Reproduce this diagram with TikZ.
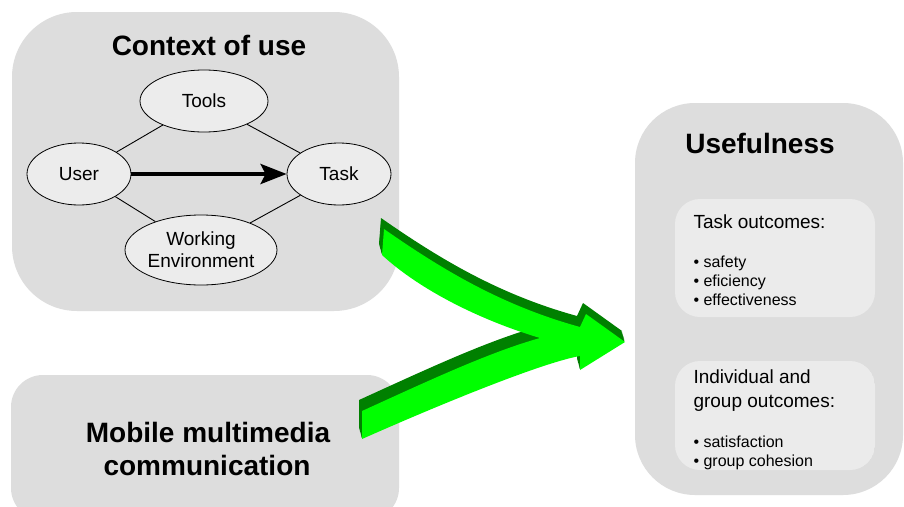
\documentclass[tikz,border=0pt]{standalone}
\usepackage{fontspec}
\setmainfont{Liberation Sans}
\usetikzlibrary{shapes.geometric,arrows.meta}
\definecolor{boxgray}{RGB}{221,221,221}
\definecolor{innergray}{RGB}{235,235,235}
\definecolor{ellgray}{RGB}{236,236,236}
\definecolor{brightgreen}{RGB}{0,255,0}
\definecolor{darkgreen}{RGB}{0,128,0}
\newcommand{\titlefont}{\fontsize{28}{33}\selectfont\bfseries}
\newcommand{\ellfont}{\fontsize{19}{22}\selectfont}
\newcommand{\headfont}{\fontsize{19}{24}\selectfont}
\newcommand{\bulfont}{\fontsize{16}{19}\selectfont}
\newcommand{\greenpath}{(384,229) .. controls (440,268) and (500,305) .. (580,327) -- (586,314) -- (625,342) -- (580,370) -- (580,356) .. controls (545,362) and (450,400) .. (362,439) -- (362,411) .. controls (430,380) and (490,352) .. (540,338) .. controls (480,320) and (420,290) .. (382,255) -- cycle}
\begin{document}
\begin{tikzpicture}[x=1pt,y=-1pt,
  bigbox/.style={fill=boxgray},
  innerbox/.style={fill=innergray, rounded corners=25pt},
  ell/.style={ellipse, draw=black, line width=0.8pt, fill=ellgray, inner sep=0pt, font=\ellfont, align=center},
  link/.style={line width=0.9pt},
  title/.style={anchor=base, font=\titlefont},
  head/.style={anchor=base west, font=\headfont},
  bul/.style={anchor=base west, font=\bulfont}
]
\clip (0,0) rectangle (904,506);
\fill[white] (0,0) rectangle (904,506);

% big boxes
\fill[bigbox, rounded corners=65pt] (12,12) rectangle (399,311);
\fill[bigbox, rounded corners=32pt] (11,375) rectangle (399,520);
\fill[bigbox, rounded corners=60pt] (635,103) rectangle (903,495);

% context of use
\node[title] (ctxtitle) at (209,55) {Context of use};
\node[ell, minimum width=128pt, minimum height=62pt] (tools) at (204,101) {Tools};
\node[ell, minimum width=104pt, minimum height=62pt] (user) at (79,174) {User};
\node[ell, minimum width=104pt, minimum height=62pt] (task) at (339,174) {Task};
\node[ell, minimum width=152pt, minimum height=70pt] (work) at (201,250) {Working\\Environment};
\draw[link] (user) -- (tools);
\draw[link] (tools) -- (task);
\draw[link] (user) -- (work);
\draw[link] (work) -- (task);
\draw[line width=4pt, -{Stealth[length=26pt,width=20pt,inset=5pt]}] (user) -- (task);

% mobile
\node[title] (mob1) at (208,442) {Mobile multimedia};
\node[title] (mob2) at (207,475) {communication};

% usefulness
\node[title] (usetitle) at (760,153) {Usefulness};
\fill[innerbox] (675,199) rectangle (875,317);
\node[head] (taskout) at (690,228) {Task outcomes:};
\node[bul] (b1) at (690,267) {• safety};
\node[bul] (b2) at (690,286) {• eficiency};
\node[bul] (b3) at (690,305) {• effectiveness};
\begin{scope}
\clip[rounded corners=25pt] (675,361) rectangle (875,470);
\fill[innerbox] (675,361) rectangle (875,470);
\node[head] (indiv1) at (690,383) {Individual and};
\node[head] (indiv2) at (690,407) {group outcomes:};
\node[bul] (b4) at (690,447) {• satisfaction};
\node[bul] (b5) at (690,466) {• group cohesion};
\end{scope}

% green 3D arrow
\foreach \i in {1.0,0.9,...,0.05}{
  \fill[darkgreen, shift={(-3*\i,-11*\i)}] \greenpath;
}
\fill[brightgreen] \greenpath;
\end{tikzpicture}
\end{document}
